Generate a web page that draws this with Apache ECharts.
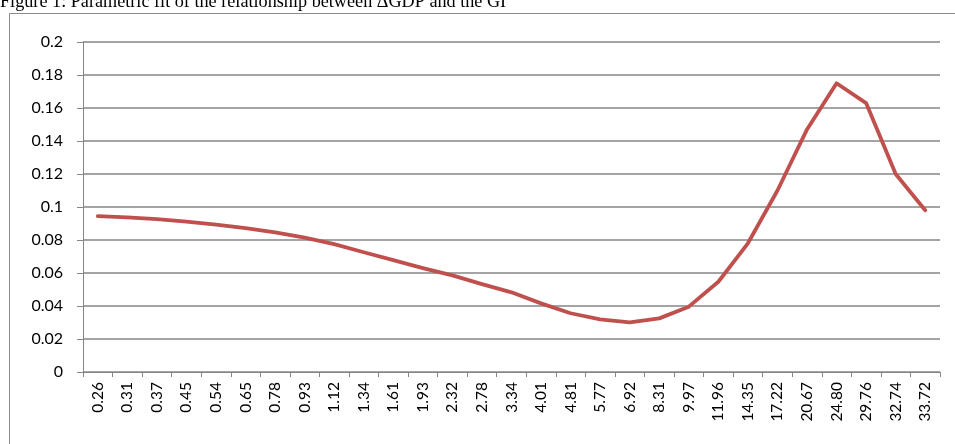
<!DOCTYPE html>
<html>
<head>
<meta charset="utf-8">
<script src="https://cdn.jsdelivr.net/npm/echarts@6/dist/echarts.min.js"></script>
<style>html,body{margin:0;padding:0;background:#fff;}#chart{width:955px;height:444px;}</style>
</head>
<body>
<div id="chart"></div>
<script>
var titleText = 'Figure 1: Parametric fit of the relationship between \u0394GDP and the GI';
var categories = ['0.26','0.31','0.37','0.45','0.54','0.65','0.78','0.93','1.12','1.34','1.61','1.93','2.32','2.78','3.34','4.01','4.81','5.77','6.92','8.31','9.97','11.96','14.35','17.22','20.67','24.80','29.76','32.74','33.72'];
var fitValues = [0.0945,0.0937,0.0926,0.0911,0.0893,0.0872,0.0846,0.0815,0.0775,0.0726,0.0678,0.0630,0.0586,0.0533,0.0483,0.0416,0.0356,0.0319,0.0301,0.0325,0.0396,0.0547,0.0780,0.1100,0.1470,0.1750,0.1630,0.1200,0.0980];
var yTicks = [0,0.02,0.04,0.06,0.08,0.1,0.12,0.14,0.16,0.18,0.2];

var chart = echarts.init(document.getElementById('chart'), null, {renderer:'canvas'});
var gray = '#868686';
chart.setOption({
  animation: false,
  backgroundColor: '#fff',
  graphic: [
    {type:'rect', shape:{x:9.5,y:13.5,width:1000,height:500}, style:{fill:'none', stroke:'#8c8c8c', lineWidth:1}, z:-1},
    {type:'text', x:0, y:11, style:{text:titleText, font:'18.2px "Liberation Serif"', fill:'#000', textVerticalAlign:'bottom'}}
  ],
  grid: {left:83, top:42, right:15, bottom:72, containLabel:false},
  xAxis: {
    type:'category', data:categories, boundaryGap:true,
    axisLine:{lineStyle:{color:gray, width:1}},
    axisTick:{show:true, length:5, lineStyle:{color:gray}},
    axisLabel:{rotate:90, interval:0, color:'#000', fontFamily:'Lato', fontSize:15.5, margin:10}
  },
  yAxis: {
    type:'value', min:yTicks[0], max:yTicks[yTicks.length-1], interval:0.02,
    axisLine:{show:true, lineStyle:{color:gray, width:1}},
    axisTick:{show:true, length:6, lineStyle:{color:gray}},
    splitLine:{lineStyle:{color:gray, width:1.5}},
    axisLabel:{color:'#000', fontFamily:'Lato', fontSize:16, margin:20,
      formatter:function(v){ return String(Math.round(v*100)/100); }}
  },
  series: [{
    type:'line', data:fitValues, smooth:false, showSymbol:false, symbol:'none',
    lineStyle:{color:'#C0504D', width:3.8, cap:'round', join:'round'}
  }]
});
</script>
</body>
</html>
